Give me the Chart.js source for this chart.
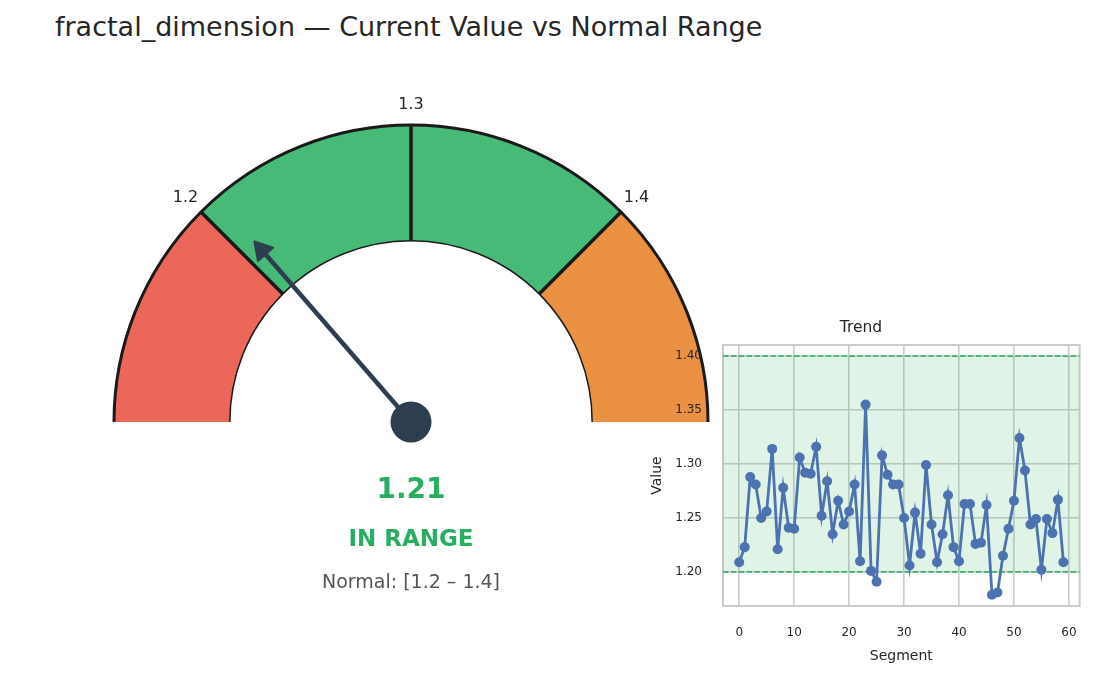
<!DOCTYPE html>
<html><head><meta charset="utf-8">
<script src="https://cdn.jsdelivr.net/npm/chart.js@4.4.1/dist/chart.umd.min.js"></script>
<style>
html,body{margin:0;padding:0;background:#fff;width:1097px;height:678px;overflow:hidden;font-family:'DejaVu Sans',sans-serif;}
#title{position:absolute;left:55px;top:10px;font-size:27px;color:#262626;white-space:nowrap;line-height:34px;}
#gauge{position:absolute;left:0;top:0;}
#trend{position:absolute;left:640px;top:301px;}
.t{position:absolute;left:211px;width:400px;text-align:center;white-space:nowrap;}
#val{top:472px;font-size:28px;line-height:34px;font-weight:bold;color:#27ae60;}
#status{top:524px;font-size:23px;line-height:28px;font-weight:bold;color:#27ae60;}
#normal{top:569px;font-size:19px;line-height:24px;color:#555555;}
</style></head><body>
<div id="title">fractal_dimension — Current Value vs Normal Range</div>
<canvas id="gauge" width="822" height="547"></canvas>
<div class="t" id="val"></div>
<div class="t" id="status"></div>
<div class="t" id="normal"></div>
<canvas id="trend" width="457" height="377"></canvas>
<script>
// ---- data ----
const gaugeEdges = [1.1, 1.2, 1.3, 1.4, 1.5];
const gaugeColors = ['#eb6759', '#47ba78', '#47ba78', '#ea9143'];
const gaugeTickValues = [1.2, 1.3, 1.4];
const normalLow = 1.2;
const normalHigh = 1.4;
const trendValues = [
  1.209, 1.223, 1.288, 1.281, 1.250, 1.256, 1.314, 1.221, 1.278, 1.241,
  1.240, 1.306, 1.292, 1.291, 1.316, 1.252, 1.284, 1.235, 1.266, 1.244,
  1.256, 1.281, 1.210, 1.355, 1.201, 1.191, 1.308, 1.290, 1.281, 1.281,
  1.250, 1.206, 1.255, 1.217, 1.299, 1.244, 1.209, 1.235, 1.271, 1.223,
  1.210, 1.263, 1.263, 1.226, 1.227, 1.262, 1.179, 1.181, 1.215, 1.240,
  1.266, 1.324, 1.294, 1.244, 1.249, 1.202, 1.249, 1.236, 1.267, 1.209
];
const segments = trendValues.map((_, i) => i);
const xTicks = [0, 10, 20, 30, 40, 50, 60];
const yTicks = [1.20, 1.25, 1.30, 1.35, 1.40];
const currentValue = trendValues[trendValues.length - 1];

const xMin = -2.95, xMax = 61.95, yMin = 1.1685, yMax = 1.4102;

document.getElementById('val').textContent = currentValue.toFixed(2);
document.getElementById('status').textContent =
  (currentValue >= normalLow && currentValue <= normalHigh) ? 'IN RANGE' : 'OUT OF RANGE';
document.getElementById('normal').textContent = 'Normal: [' + normalLow + ' – ' + normalHigh + ']';

const FONT = 'DejaVu Sans';
const gMin = gaugeEdges[0], gMax = gaugeEdges[gaugeEdges.length - 1];
const segWidths = gaugeEdges.slice(1).map((e, i) => +(e - gaugeEdges[i]).toFixed(6));

const gaugePlugin = {
  id: 'gaugeDeco',
  afterDatasetsDraw(chart) {
    const ctx = chart.ctx;
    const arcs = chart.getDatasetMeta(0).data;
    const a0 = arcs[0];
    const cx = a0.x, cy = a0.y, rO = a0.outerRadius, rI = a0.innerRadius;
    const start = arcs[0].startAngle, end = arcs[arcs.length - 1].endAngle;
    const angOf = v => start + (v - gMin) / (gMax - gMin) * (end - start);
    ctx.save();
    ctx.strokeStyle = '#1a1a1a';
    ctx.lineWidth = 3;
    ctx.beginPath(); ctx.arc(cx, cy, rO, start, end); ctx.stroke();
    ctx.lineWidth = 1.5;
    ctx.beginPath(); ctx.arc(cx, cy, rI, start, end); ctx.stroke();
    ctx.lineWidth = 3.5;
    for (let i = 1; i < arcs.length; i++) {
      const ang = arcs[i].startAngle;
      ctx.beginPath();
      ctx.moveTo(cx + rI * Math.cos(ang), cy + rI * Math.sin(ang));
      ctx.lineTo(cx + rO * Math.cos(ang), cy + rO * Math.sin(ang));
      ctx.stroke();
    }
    // tick labels
    ctx.fillStyle = '#262626';
    ctx.font = '16px "' + FONT + '"';
    ctx.textAlign = 'center'; ctx.textBaseline = 'middle';
    gaugeTickValues.forEach(v => {
      const ang = angOf(v), r = rO + 22;
      ctx.fillText(String(v), cx + r * Math.cos(ang), cy + r * Math.sin(ang) + 1.5);
    });
    // needle
    const ang = angOf(currentValue);
    const tipR = 240, headL = 18, headW = 11;
    const ux = Math.cos(ang), uy = Math.sin(ang);
    ctx.strokeStyle = '#2c3e50'; ctx.fillStyle = '#2c3e50';
    ctx.lineWidth = 4.5; ctx.lineCap = 'butt';
    ctx.beginPath(); ctx.moveTo(cx, cy);
    ctx.lineTo(cx + (tipR - headL + 2) * ux, cy + (tipR - headL + 2) * uy); ctx.stroke();
    const bx = cx + (tipR - headL) * ux, by = cy + (tipR - headL) * uy;
    ctx.lineJoin = 'round'; ctx.lineWidth = 2;
    ctx.beginPath();
    ctx.moveTo(cx + (tipR - 1) * ux, cy + (tipR - 1) * uy);
    ctx.lineTo(bx - (headW - 1) * uy, by + (headW - 1) * ux);
    ctx.lineTo(bx + (headW - 1) * uy, by - (headW - 1) * ux);
    ctx.closePath(); ctx.fill(); ctx.stroke();
    ctx.beginPath(); ctx.arc(cx, cy, 20.5, 0, Math.PI * 2); ctx.fill();
    ctx.restore();
  }
};

new Chart(document.getElementById('gauge'), {
  type: 'doughnut',
  data: { labels: ['low', 'normal-a', 'normal-b', 'high'],
    datasets: [{ data: segWidths, backgroundColor: gaugeColors, borderWidth: 0 }] },
  options: {
    responsive: false, animation: false, events: [],
    rotation: -90, circumference: 180, cutout: '61%', radius: 297,
    plugins: { legend: { display: false }, tooltip: { enabled: false } }
  },
  plugins: [gaugePlugin]
});

const framePlugin = {
  id: 'frame',
  beforeDatasetsDraw(chart) {
    const { ctx, chartArea: a } = chart;
    ctx.save();
    ctx.strokeStyle = '#cccccc'; ctx.lineWidth = 2;
    ctx.strokeRect(a.left, a.top, a.right - a.left, a.bottom - a.top);
    ctx.restore();
  }
};

const tickFont = { family: FONT, size: 12 };
const titleFont = { family: FONT, size: 14 };
new Chart(document.getElementById('trend'), {
  type: 'line',
  data: { datasets: [
    { data: segments.map((s, i) => ({ x: s, y: trendValues[i] })),
      borderColor: '#4c72b0', backgroundColor: '#4c72b0', borderWidth: 2.8,
      pointRadius: 5, pointBorderWidth: 0, pointBackgroundColor: '#4c72b0',
      tension: 0, fill: false },
    { data: [{ x: xMin, y: normalHigh }, { x: xMax, y: normalHigh }],
      borderColor: '#27ae60', borderDash: [5.5, 2.4], borderWidth: 1.5, pointRadius: 0,
      fill: '+1', backgroundColor: 'rgba(39,174,96,0.15)' },
    { data: [{ x: xMin, y: normalLow }, { x: xMax, y: normalLow }],
      borderColor: '#27ae60', borderDash: [5.5, 2.4], borderWidth: 1.5, pointRadius: 0,
      fill: false }
  ] },
  options: {
    responsive: false, animation: false, events: [],
    layout: { padding: { left: 0, right: 15, top: 0, bottom: 0 } },
    plugins: {
      legend: { display: false }, tooltip: { enabled: false },
      title: { display: true, text: 'Trend', color: '#262626',
        font: { family: FONT, size: 15.5, weight: 'normal' }, padding: { top: 17.7, bottom: 7.7 } }
    },
    scales: {
      x: { type: 'linear', min: xMin, max: xMax,
        afterBuildTicks: s => { s.ticks = xTicks.map(v => ({ value: v })); },
        afterFit: s => { s.height = 72; },
        grid: { color: '#cccccc', lineWidth: 1.6, drawTicks: false },
        border: { display: false },
        ticks: { padding: 20, font: tickFont, color: '#262626', callback: v => String(v) },
        title: { display: true, text: 'Segment', color: '#262626', font: titleFont, padding: { top: 0, bottom: 13.6 } } },
      y: { type: 'linear', min: yMin, max: yMax,
        afterBuildTicks: s => { s.ticks = yTicks.map(v => ({ value: v })); },
        afterFit: s => { s.width = 83; },
        grid: { color: '#cccccc', lineWidth: 1.6, drawTicks: false },
        border: { display: false },
        ticks: { padding: 21, font: tickFont, color: '#262626', callback: v => Number(v).toFixed(2) },
        title: { display: true, text: 'Value', color: '#262626', font: titleFont, padding: { top: 8.6, bottom: 0 } } }
    }
  },
  plugins: [framePlugin]
});
</script>
</body></html>
